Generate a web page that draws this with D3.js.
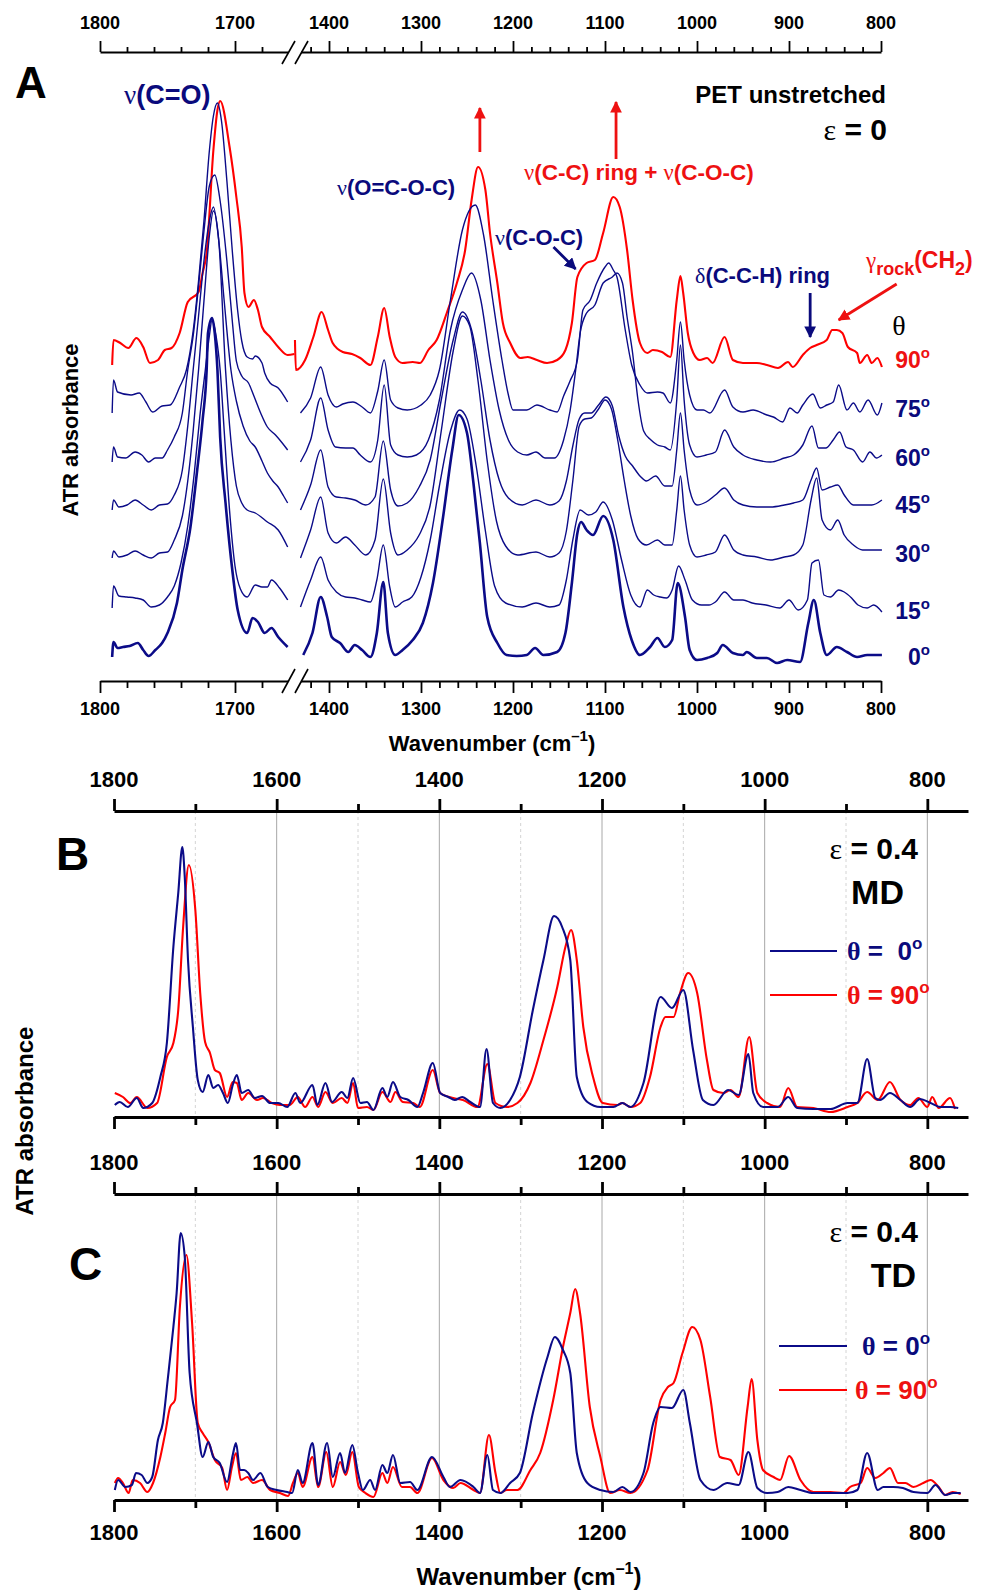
<!DOCTYPE html>
<html><head><meta charset="utf-8">
<script src="https://cdn.jsdelivr.net/npm/d3@7"></script>
<style>body{margin:0;background:#fff}</style>
</head><body>
<svg id="c" width="981" height="1591"></svg>
<script>
// ---------------- DATA ----------------
// Panel A: absorbance (arbitrary units, offset-stacked), left (1800-1655) and right (1437-799) segments
const a90L = [[1791,316],[1790,341],[1785,338],[1779,333],[1773,343],[1768,334],[1763,318],[1757,321],[1752,331],[1747,333],[1741,348],[1735,379],[1727,389],[1724,408],[1721,428],[1716,531],[1713,571],[1711,580],[1704,534],[1699,484],[1695,434],[1693,388],[1690,374],[1686,381],[1683,371],[1680,354],[1674,344],[1668,334],[1661,326],[1656,327]];
const a90R = [[1437,341],[1436,311],[1426,321],[1417,344],[1408,369],[1401,351],[1396,338],[1385,329],[1375,327],[1366,323],[1355,316],[1347,344],[1340,373],[1334,344],[1328,324],[1320,318],[1309,319],[1301,318],[1292,331],[1283,341],[1272,368],[1261,398],[1252,431],[1245,481],[1238,514],[1230,491],[1225,448],[1217,398],[1211,358],[1203,338],[1192,323],[1184,324],[1174,321],[1163,318],[1152,321],[1143,331],[1136,358],[1130,404],[1120,418],[1111,421],[1102,448],[1091,484],[1084,474],[1076,431],[1070,381],[1062,338],[1054,328],[1048,331],[1038,329],[1029,324],[1022,381],[1018,405],[1015,388],[1010,348],[1004,328],[997,321],[989,323],[983,318],[970,344],[961,321],[950,318],[935,318],[924,316],[912,313],[901,319],[896,314],[885,326],[877,333],[870,336],[859,341],[853,351],[848,351],[842,348],[836,334],[826,328],[823,318],[815,326],[810,318],[804,323],[799,314]];

const a75L = [[1791,268],[1790,301],[1787,289],[1777,286],[1771,288],[1766,279],[1761,269],[1754,275],[1748,276],[1741,294],[1736,311],[1731,350],[1727,400],[1723,460],[1719,530],[1716,565],[1713,578],[1710,560],[1706,500],[1702,430],[1698,370],[1695,340],[1691,324],[1687,322],[1685,325],[1680,318],[1678,308],[1674,298],[1668,293],[1661,279]];
const a75R = [[1431,268],[1420,283],[1409,314],[1401,286],[1392,274],[1385,277],[1374,279],[1364,274],[1355,268],[1347,290],[1340,321],[1333,281],[1325,273],[1315,271],[1300,276],[1290,286],[1280,311],[1268,381],[1255,451],[1241,476],[1232,446],[1222,381],[1212,321],[1205,286],[1200,271],[1185,271],[1174,276],[1160,271],[1152,269],[1145,285],[1138,300],[1130,321],[1124,371],[1116,381],[1109,398],[1100,414],[1096,418],[1091,411],[1087,404],[1078,351],[1071,316],[1062,296],[1054,288],[1043,289],[1037,288],[1029,278],[1022,321],[1018,359],[1014,321],[1008,286],[1000,271],[993,271],[986,268],[970,291],[961,274],[950,269],[939,271],[924,266],[917,264],[907,259],[899,273],[891,268],[885,276],[874,287],[866,273],[859,276],[852,279],[846,296],[837,271],[830,278],[823,269],[814,281],[804,266],[799,278]];

const a60L = [[1791,219],[1790,234],[1787,224],[1781,223],[1774,229],[1769,226],[1764,219],[1759,223],[1754,223],[1750,231],[1745,244],[1739,268],[1735,311],[1731,345],[1727,395],[1723,450],[1719,495],[1715,506],[1711,480],[1706,420],[1702,360],[1699,320],[1695,305],[1690,298],[1686,285],[1681,268],[1676,254],[1670,246],[1665,238],[1661,231]];
const a60R = [[1431,219],[1420,241],[1409,283],[1401,251],[1393,234],[1382,233],[1374,233],[1366,226],[1355,219],[1347,241],[1340,296],[1333,236],[1325,226],[1315,224],[1305,226],[1292,241],[1280,281],[1268,351],[1255,391],[1245,408],[1235,381],[1225,321],[1215,271],[1205,241],[1195,229],[1185,226],[1175,229],[1165,223],[1155,223],[1145,241],[1138,270],[1132,310],[1127,348],[1120,368],[1111,376],[1102,398],[1092,404],[1087,408],[1081,398],[1076,364],[1070,328],[1064,280],[1058,250],[1050,241],[1043,236],[1035,234],[1029,231],[1022,281],[1018,336],[1014,281],[1008,236],[1000,224],[990,226],[980,229],[970,251],[960,234],[950,226],[935,221],[920,219],[905,223],[895,226],[885,236],[875,255],[868,233],[860,233],[852,241],[845,249],[838,234],[830,231],[820,219],[812,229],[805,223],[799,226]];

const a45L = [[1791,171],[1790,181],[1786,174],[1780,176],[1774,181],[1768,176],[1762,171],[1756,176],[1750,177],[1745,186],[1739,211],[1735,255],[1731,311],[1727,365],[1723,420],[1719,460],[1716,474],[1712,440],[1708,380],[1703,311],[1699,280],[1694,255],[1689,240],[1685,234],[1680,220],[1676,208],[1672,200],[1668,194],[1664,185],[1661,178]];
const a45R = [[1431,171],[1420,196],[1409,231],[1401,194],[1392,184],[1382,183],[1372,181],[1360,176],[1350,184],[1341,240],[1333,191],[1325,175],[1315,178],[1302,194],[1290,221],[1278,281],[1265,341],[1255,369],[1245,351],[1235,301],[1225,241],[1215,201],[1205,183],[1190,176],[1175,181],[1160,176],[1150,180],[1142,200],[1135,235],[1128,262],[1122,268],[1115,268],[1107,276],[1099,284],[1092,275],[1085,245],[1078,225],[1070,215],[1062,205],[1055,200],[1045,205],[1035,195],[1027,195],[1022,231],[1018,268],[1014,231],[1008,191],[1000,176],[990,179],[980,186],[970,193],[960,181],[950,176],[935,174],[920,174],[905,176],[895,178],[885,181],[876,201],[870,213],[864,191],[855,194],[847,196],[840,186],[830,176],[820,176],[810,176],[799,181]];

const a30L = [[1791,123],[1790,130],[1786,124],[1780,126],[1774,130],[1768,126],[1762,123],[1756,128],[1750,129],[1745,141],[1739,165],[1735,200],[1731,250],[1727,311],[1723,380],[1719,445],[1716,470],[1712,440],[1707,311],[1703,240],[1699,195],[1695,178],[1691,171],[1685,168],[1676,159],[1668,151],[1661,134]];
const a30R = [[1431,123],[1420,151],[1409,184],[1401,148],[1392,138],[1382,144],[1372,136],[1360,126],[1350,141],[1341,202],[1333,148],[1325,126],[1315,131],[1302,146],[1290,176],[1278,250],[1265,330],[1255,365],[1247,355],[1238,300],[1228,220],[1218,160],[1208,135],[1195,126],[1175,129],[1160,124],[1150,128],[1142,150],[1135,200],[1128,255],[1122,262],[1115,263],[1107,272],[1100,281],[1093,272],[1086,240],[1079,200],[1072,165],[1064,142],[1055,136],[1043,141],[1035,136],[1027,136],[1022,171],[1018,205],[1014,171],[1008,136],[1000,124],[990,126],[980,129],[970,146],[960,131],[950,126],[935,124],[920,121],[905,124],[895,126],[885,136],[876,181],[870,203],[864,161],[855,151],[847,161],[840,146],[830,136],[820,131],[810,131],[799,131]];

const a15L = [[1791,73],[1790,95],[1786,85],[1780,84],[1774,83],[1768,81],[1762,74],[1756,76],[1750,84],[1745,95],[1740,118],[1735,155],[1730,210],[1726,265],[1722,311],[1719,345],[1717,361],[1714,345],[1711,311],[1708,250],[1704,170],[1700,115],[1696,92],[1691,84],[1685,96],[1680,94],[1676,94],[1673,101],[1667,93],[1661,81]];
const a15R = [[1431,74],[1420,101],[1409,124],[1401,101],[1392,89],[1382,84],[1372,83],[1364,81],[1355,79],[1348,101],[1341,136],[1334,94],[1328,74],[1320,79],[1310,84],[1300,104],[1290,141],[1280,195],[1268,250],[1258,271],[1250,262],[1240,215],[1230,150],[1220,95],[1208,78],[1190,74],[1175,78],[1160,74],[1150,76],[1142,101],[1135,141],[1127,171],[1118,166],[1110,169],[1102,179],[1092,161],[1082,121],[1072,86],[1062,74],[1054,91],[1047,86],[1040,84],[1033,83],[1027,91],[1020,115],[1013,101],[1005,81],[995,76],[987,76],[980,79],[970,89],[960,81],[950,81],[940,78],[925,76],[910,73],[900,81],[890,71],[880,81],[875,118],[868,121],[862,86],[855,84],[846,91],[840,89],[832,83],[825,76],[815,73],[808,76],[799,69]];

const a0L = [[1791,24],[1790,39],[1787,33],[1783,34],[1778,35],[1772,38],[1768,31],[1764,25],[1759,31],[1754,38],[1750,48],[1743,78],[1739,111],[1733,154],[1728,211],[1724,261],[1721,311],[1720,348],[1717,363],[1715,348],[1713,311],[1711,244],[1707,178],[1702,111],[1698,71],[1691,48],[1687,63],[1683,59],[1678,48],[1673,53],[1668,44],[1661,34]];
const a0R = [[1428,26],[1418,48],[1409,84],[1402,64],[1397,44],[1388,38],[1379,29],[1372,36],[1364,31],[1355,24],[1348,48],[1341,99],[1336,48],[1328,26],[1320,31],[1309,41],[1298,58],[1287,98],[1276,164],[1266,231],[1259,266],[1250,248],[1243,198],[1236,138],[1228,64],[1217,38],[1207,26],[1196,25],[1185,26],[1176,33],[1167,26],[1152,29],[1143,48],[1136,98],[1130,148],[1126,159],[1120,151],[1113,146],[1102,165],[1091,141],[1080,74],[1071,41],[1062,26],[1051,34],[1043,43],[1035,34],[1027,41],[1021,98],[1013,64],[1008,31],[1000,21],[989,23],[978,28],[972,36],[961,28],[950,26],[946,29],[935,23],[924,23],[913,18],[902,21],[888,19],[879,58],[873,81],[866,48],[859,26],[848,34],[837,29],[826,24],[815,26],[799,26]];

const anglesA = ["90","75","60","45","30","15","0"];
const labelLevelsA = [313,264,215,168,119,62,16];

// Panel B (eps = 0.4, MD)
const bBlue = [[1799,12],[1793,15],[1783,10],[1772,19],[1764,9],[1753,14],[1743,40],[1735,74],[1727,170],[1721,224],[1716,270],[1713,240],[1709,157],[1703,90],[1697,37],[1691,25],[1684,42],[1678,29],[1672,32],[1666,24],[1660,14],[1654,32],[1649,42],[1643,24],[1635,27],[1627,19],[1618,21],[1608,14],[1598,14],[1587,10],[1577,24],[1571,14],[1556,32],[1550,12],[1540,34],[1532,15],[1520,25],[1513,19],[1506,39],[1497,14],[1489,15],[1481,7],[1470,29],[1464,20],[1457,35],[1448,20],[1438,17],[1427,10],[1420,24],[1408,54],[1399,24],[1389,20],[1381,17],[1372,20],[1362,15],[1350,10],[1342,68],[1334,14],[1325,9],[1313,17],[1301,40],[1285,107],[1272,157],[1259,201],[1249,190],[1239,157],[1231,40],[1218,15],[1202,10],[1186,10],[1175,14],[1165,10],[1149,34],[1128,120],[1114,109],[1100,127],[1088,67],[1076,17],[1063,12],[1045,27],[1032,22],[1020,63],[1014,24],[1002,10],[984,10],[971,20],[960,9],[940,8],[919,8],[898,14],[886,14],[874,58],[864,19],[858,17],[846,24],[833,17],[821,10],[809,18],[796,14],[784,10],[772,10],[762,9]];
const bRed = [[1799,24],[1789,20],[1780,14],[1772,20],[1759,9],[1747,14],[1735,60],[1727,74],[1721,107],[1715,190],[1708,252],[1700,207],[1694,124],[1688,75],[1682,64],[1676,47],[1670,44],[1661,20],[1654,35],[1649,34],[1643,17],[1635,24],[1624,17],[1617,19],[1606,14],[1596,12],[1584,12],[1574,20],[1565,10],[1556,20],[1549,10],[1540,25],[1531,14],[1520,19],[1513,14],[1506,34],[1500,9],[1489,10],[1481,7],[1470,25],[1460,15],[1454,25],[1445,15],[1432,14],[1424,10],[1408,47],[1399,24],[1383,19],[1371,17],[1353,10],[1341,53],[1331,14],[1317,10],[1304,14],[1288,34],[1272,77],[1255,130],[1245,170],[1238,187],[1231,157],[1223,90],[1211,40],[1199,14],[1181,12],[1175,14],[1165,10],[1153,14],[1141,40],[1128,90],[1122,100],[1112,100],[1104,124],[1094,144],[1083,124],[1071,57],[1063,27],[1051,24],[1042,27],[1032,20],[1019,80],[1009,24],[997,14],[981,10],[971,29],[960,10],[940,9],[919,5],[898,10],[886,14],[874,25],[861,17],[846,35],[833,17],[821,12],[811,19],[800,10],[794,20],[786,9],[772,19],[766,8]];

// Panel C (eps = 0.4, TD)
const cBlue = [[1799,10],[1795,20],[1786,13],[1778,15],[1773,27],[1766,25],[1759,17],[1753,23],[1746,60],[1740,77],[1734,120],[1727,173],[1723,207],[1718,267],[1713,243],[1707,127],[1698,77],[1691,43],[1684,58],[1678,43],[1670,37],[1661,18],[1654,45],[1650,57],[1645,30],[1640,30],[1635,27],[1629,20],[1620,27],[1611,13],[1600,10],[1587,8],[1581,7],[1574,30],[1568,17],[1556,57],[1549,15],[1538,57],[1531,23],[1522,47],[1516,27],[1507,55],[1500,27],[1494,10],[1485,20],[1479,10],[1470,35],[1464,27],[1457,45],[1448,17],[1436,18],[1427,10],[1409,43],[1395,23],[1387,13],[1374,20],[1358,13],[1350,7],[1341,45],[1334,10],[1325,7],[1313,17],[1301,27],[1285,87],[1267,143],[1258,163],[1248,150],[1239,127],[1231,47],[1218,17],[1202,10],[1186,8],[1175,13],[1165,8],[1149,27],[1137,77],[1128,93],[1114,92],[1100,110],[1092,77],[1079,20],[1063,10],[1046,17],[1032,15],[1020,48],[1009,12],[997,7],[984,8],[971,13],[956,10],[940,7],[919,7],[898,7],[886,10],[874,47],[861,10],[854,13],[842,13],[830,12],[817,8],[800,7],[790,15],[778,5],[768,7],[759,7]];
const cRed = [[1799,17],[1795,22],[1789,17],[1782,7],[1777,20],[1768,17],[1759,8],[1752,17],[1743,43],[1737,67],[1731,93],[1725,100],[1719,193],[1711,245],[1704,177],[1697,77],[1691,67],[1684,58],[1676,40],[1667,32],[1661,10],[1655,33],[1650,47],[1644,20],[1636,23],[1629,17],[1618,20],[1608,10],[1596,7],[1586,4],[1580,17],[1574,27],[1568,13],[1556,43],[1549,13],[1539,48],[1531,13],[1522,38],[1515,25],[1507,48],[1499,13],[1491,7],[1481,3],[1470,27],[1464,17],[1457,33],[1446,13],[1436,13],[1427,7],[1409,42],[1395,20],[1383,12],[1374,17],[1358,10],[1350,7],[1339,65],[1331,27],[1325,7],[1317,10],[1304,10],[1288,30],[1276,47],[1260,100],[1248,153],[1239,187],[1233,211],[1227,187],[1215,93],[1202,43],[1190,7],[1178,10],[1165,7],[1144,30],[1128,100],[1119,113],[1112,117],[1101,147],[1089,173],[1079,160],[1067,103],[1055,43],[1042,40],[1032,25],[1021,93],[1016,121],[1009,60],[1002,30],[989,23],[981,20],[970,44],[956,20],[940,8],[919,8],[903,7],[895,13],[882,17],[874,32],[864,22],[854,27],[846,32],[836,17],[827,17],[817,13],[805,17],[796,20],[786,13],[778,5],[769,8],[759,6]];

const ticksAleft = [1800,1700];
const minorAleft = [1780,1760,1740,1720,1680];
const ticksAright = [1400,1300,1200,1100,1000,900,800];
const minorAright = d3.range(1420,800,-20).filter(v=>v%100!==0);
const ticksBC = [1800,1600,1400,1200,1000,800];
const minorBC = [1700,1500,1300,1100,900];

// ---------------- STYLE ----------------
const SANS = "'Liberation Sans', Arial, Helvetica, sans-serif";
const SERIF = "'Liberation Serif', 'Times New Roman', serif";
const NAVY = "#0b0b88", RED = "#ff0000", TNAVY = "#0a0a7c", TRED = "#ee1111";

const svg = d3.select('#c');
svg.append('rect').attr('width',981).attr('height',1591).attr('fill','#fff');

function addText(x, y, anchor, size, color, parts, extra) {
  const t = svg.append('text').attr('x',x).attr('y',y).attr('text-anchor',anchor)
    .attr('font-family',SANS).attr('font-size',size).attr('font-weight','bold').attr('fill',color)
    .style('white-space','pre');
  if (extra) extra(t);
  parts.forEach(p => {
    if (typeof p === 'string') p = {t:p};
    const s = t.append('tspan').text(p.t);
    if (p.f) s.attr('font-family', p.f);
    if (p.s) s.attr('font-size', p.s);
    if (p.dy) s.attr('dy', p.dy);
    if (p.w) s.attr('font-weight', p.w);
  });
  return t;
}

// ---------------- PANEL A ----------------
const xAL = d3.scaleLinear().domain([1800,1700]).range([100,235]);
const xAR = d3.scaleLinear().domain([1400,800]).range([329,881]);
const yA = d3.scaleLinear().domain([0,600]).range([681,81]);

function drawAxisA(y, dir) {
  const g = svg.append('g').attr('transform',`translate(0,${y})`);
  const sL = xAL.copy().domain([1800,1661]).range([xAL(1800), xAL(1661)]);
  const sR = xAR.copy().domain([1431,800]).range([xAR(1431), xAR(800)]);
  const mk = (s, vals, len, dom) => {
    const ax = (dir==='top'?d3.axisTop(s):d3.axisBottom(s)).tickValues(vals).tickSizeInner(len).tickSizeOuter(0).tickFormat('');
    const gg = g.append('g').call(ax);
    if (!dom) gg.select('.domain').remove();
    gg.selectAll('line,path').attr('stroke','#000').attr('stroke-width',1.8);
    gg.selectAll('text').remove();
  };
  mk(sL, ticksAleft, dir==='top'?11:12, true);
  mk(sL, minorAleft, dir==='top'?5:7, false);
  mk(sR, ticksAright, dir==='top'?11:12, true);
  mk(sR, minorAright, dir==='top'?5:7, false);
  const br = dir==='top' ? [12,-11] : [12,-12];
  [282,295].forEach(x0 => {
    g.append('line').attr('x1',x0).attr('y1',br[0]).attr('x2',x0+13).attr('y2',br[1])
      .attr('stroke','#000').attr('stroke-width',1.6);
  });
  const ly = dir==='top' ? -23.5 : 33.5;
  ticksAleft.forEach(v => g.append('text').attr('x',xAL(v)).attr('y',ly).attr('text-anchor','middle')
    .attr('font-family',SANS).attr('font-weight','bold').attr('font-size',18).text(v));
  ticksAright.forEach(v => g.append('text').attr('x',xAR(v)).attr('y',ly).attr('text-anchor','middle')
    .attr('font-family',SANS).attr('font-weight','bold').attr('font-size',18).text(v));
}
drawAxisA(52,'top');
drawAxisA(681,'bottom');

const lineL = d3.line().x(d=>xAL(d[0])).y(d=>yA(d[1])).curve(d3.curveMonotoneX);
const lineR = d3.line().x(d=>xAR(d[0])).y(d=>yA(d[1])).curve(d3.curveMonotoneX);
const seriesA = [
  {L:a90L,R:a90R,c:RED,w:2.1},
  {L:a75L,R:a75R,c:NAVY,w:1.4},
  {L:a60L,R:a60R,c:NAVY,w:1.4},
  {L:a45L,R:a45R,c:NAVY,w:1.4},
  {L:a30L,R:a30R,c:NAVY,w:1.4},
  {L:a15L,R:a15R,c:NAVY,w:1.4},
  {L:a0L,R:a0R,c:NAVY,w:2.6}
];
const gA = svg.append('g');
seriesA.forEach(s => {
  gA.append('path').attr('d',lineL(s.L)).attr('fill','none').attr('stroke',s.c).attr('stroke-width',s.w).attr('stroke-linejoin','round');
  gA.append('path').attr('d',lineR(s.R)).attr('fill','none').attr('stroke',s.c).attr('stroke-width',s.w).attr('stroke-linejoin','round');
});

anglesA.forEach((a,i) => {
  addText(930, yA(labelLevelsA[i]), 'end', 23, i===0?TRED:TNAVY, [a, {t:'o', s:15, dy:-10}]);
});
addText(899, 335, 'middle', 28, '#000', [{t:'θ', f:SERIF, w:'normal'}]);

addText(124, 104, 'start', 27, TNAVY, [{t:'ν', f:SERIF, w:'normal'}, '(C=O)']);
addText(337, 195, 'start', 22, TNAVY, [{t:'ν', f:SERIF, w:'normal'}, '(O=C-O-C)']);
addText(886, 103, 'end', 24, '#000', ['PET unstretched']);
addText(887, 140, 'end', 30, '#000', [{t:'ε', f:SERIF, w:'normal'}, ' = 0']);
addText(524, 180, 'start', 22.5, TRED, [{t:'ν', f:SERIF, w:'normal'}, '(C-C) ring + ', {t:'ν', f:SERIF, w:'normal'}, '(C-O-C)']);
addText(495, 245, 'start', 22, TNAVY, [{t:'ν', f:SERIF, w:'normal'}, '(C-O-C)']);
addText(695, 283, 'start', 22, TNAVY, [{t:'δ', f:SERIF, w:'normal'}, '(C-C-H) ring']);
addText(866, 268, 'start', 23, TRED, [{t:'γ', f:SERIF, w:'normal'}, {t:'rock', s:18, dy:7}, {t:'(CH', dy:-7}, {t:'2', s:18, dy:7}, {t:')', dy:-7}]);

const defs = svg.append('defs');
function marker(id, col) {
  defs.append('marker').attr('id',id).attr('viewBox','0 0 10 10').attr('refX',9).attr('refY',5)
    .attr('markerWidth',4.2).attr('markerHeight',4.2).attr('orient','auto').attr('markerUnits','strokeWidth')
    .append('path').attr('d','M0,0 L10,5 L0,10 Z').attr('fill',col);
}
marker('mr', TRED); marker('mb', TNAVY);
function arrow(x1,y1,x2,y2,col,id){
  svg.append('line').attr('x1',x1).attr('y1',y1).attr('x2',x2).attr('y2',y2)
    .attr('stroke',col).attr('stroke-width',2.8).attr('marker-end',`url(#${id})`);
}
arrow(xAR(1236), yA(529), xAR(1236), yA(573), TRED, 'mr');
arrow(xAR(1088), yA(522), xAR(1088), yA(579), TRED, 'mr');
arrow(xAR(1156), yA(434), xAR(1132), yA(412), TNAVY, 'mb');
arrow(xAR(877), yA(388), xAR(877), yA(344), TNAVY, 'mb');
arrow(xAR(783), yA(397), xAR(846), yA(361), TRED, 'mr');

addText(15, 98, 'start', 44, '#000', ['A']);
addText(492, 751, 'middle', 22, '#000', ['Wavenumber (cm', {t:'–1', s:15, dy:-10}, {t:')', dy:10}]);
addText(0, 0, 'middle', 22, '#000', ['ATR absorbance'], t=>t.attr('transform','translate(78,430) rotate(-90)'));

// ---------------- PANELS B & C ----------------
const xBC = d3.scaleLinear().domain([1800,750]).range([114,968]);
function panel(top, bottom, blue, red, showTopLabels, showBottomLabels, letter, lx, ly, mode, legend) {
  const y = d3.scaleLinear().domain([0,306]).range([bottom, top]);
  ticksBC.slice(1).forEach(v => svg.append('line').attr('x1',xBC(v)).attr('x2',xBC(v)).attr('y1',top).attr('y2',bottom)
    .attr('stroke','#a8a8a8').attr('stroke-width',1));
  minorBC.forEach(v => svg.append('line').attr('x1',xBC(v)).attr('x2',xBC(v)).attr('y1',top).attr('y2',bottom)
    .attr('stroke','#d4d4d4').attr('stroke-width',1).attr('stroke-dasharray','3,3'));
  const mk = (yy, gen, vals, len, dom) => {
    const g = svg.append('g').attr('transform',`translate(0,${yy})`)
      .call(gen(xBC).tickValues(vals).tickSizeInner(len).tickSizeOuter(0).tickFormat(''));
    if (!dom) g.select('.domain').remove();
    g.selectAll('line,path').attr('stroke','#000').attr('stroke-width',2.8);
    g.selectAll('text').remove();
  };
  mk(top, d3.axisTop, ticksBC, 12, true);
  mk(top, d3.axisTop, minorBC, 7, false);
  mk(bottom, d3.axisBottom, ticksBC, 12, true);
  mk(bottom, d3.axisBottom, minorBC, 8, false);
  if (showTopLabels) ticksBC.forEach(v => svg.append('text').attr('x',xBC(v)).attr('y',top-24).attr('text-anchor','middle')
    .attr('font-family',SANS).attr('font-weight','bold').attr('font-size',22).text(v));
  if (showBottomLabels) ticksBC.forEach(v => svg.append('text').attr('x',xBC(v)).attr('y',bottom+40).attr('text-anchor','middle')
    .attr('font-family',SANS).attr('font-weight','bold').attr('font-size',22).text(v));
  const ln = d3.line().x(d=>xBC(d[0])).y(d=>y(d[1])).curve(d3.curveMonotoneX);
  svg.append('path').attr('d',ln(red)).attr('fill','none').attr('stroke',RED).attr('stroke-width',2.1).attr('stroke-linejoin','round');
  svg.append('path').attr('d',ln(blue)).attr('fill','none').attr('stroke',NAVY).attr('stroke-width',2.1).attr('stroke-linejoin','round');
  addText(lx, ly, 'start', 46, '#000', [letter]);
  addText(918, top+48, 'end', 30, '#000', [{t:'ε', f:SERIF, w:'normal'}, ' = 0.4']);
  addText(mode.x, top+93, 'end', 34, '#000', [mode.t]);
  legend.forEach(L => {
    svg.append('line').attr('x1',L.x1).attr('x2',L.x2).attr('y1',L.y).attr('y2',L.y).attr('stroke',L.c).attr('stroke-width',2.1);
    addText(L.tx, L.y+9, 'start', 26, L.tc, [{t:'θ', f:SERIF}, L.t, {t:'o', s:17, dy:-11}]);
  });
}
panel(811, 1117, bBlue, bRed, true, false, 'B', 56, 870, {t:'MD', x:904},
  [{x1:770,x2:837,y:951,c:NAVY,tc:TNAVY,tx:847,t:' =  0'},{x1:770,x2:837,y:995,c:RED,tc:TRED,tx:847,t:' = 90'}]);
panel(1194, 1500, cBlue, cRed, true, true, 'C', 69, 1280, {t:'TD', x:916},
  [{x1:779,x2:847,y:1346,c:NAVY,tc:TNAVY,tx:862,t:' = 0'},{x1:779,x2:847,y:1390,c:RED,tc:TRED,tx:855,t:' = 90'}]);

addText(529, 1585, 'middle', 24, '#000', ['Wavenumber (cm', {t:'–1', s:16, dy:-11}, {t:')', dy:11}]);
addText(0, 0, 'middle', 24, '#000', ['ATR absorbance'], t=>t.attr('transform','translate(33,1121) rotate(-90)'));
</script>
</body></html>
